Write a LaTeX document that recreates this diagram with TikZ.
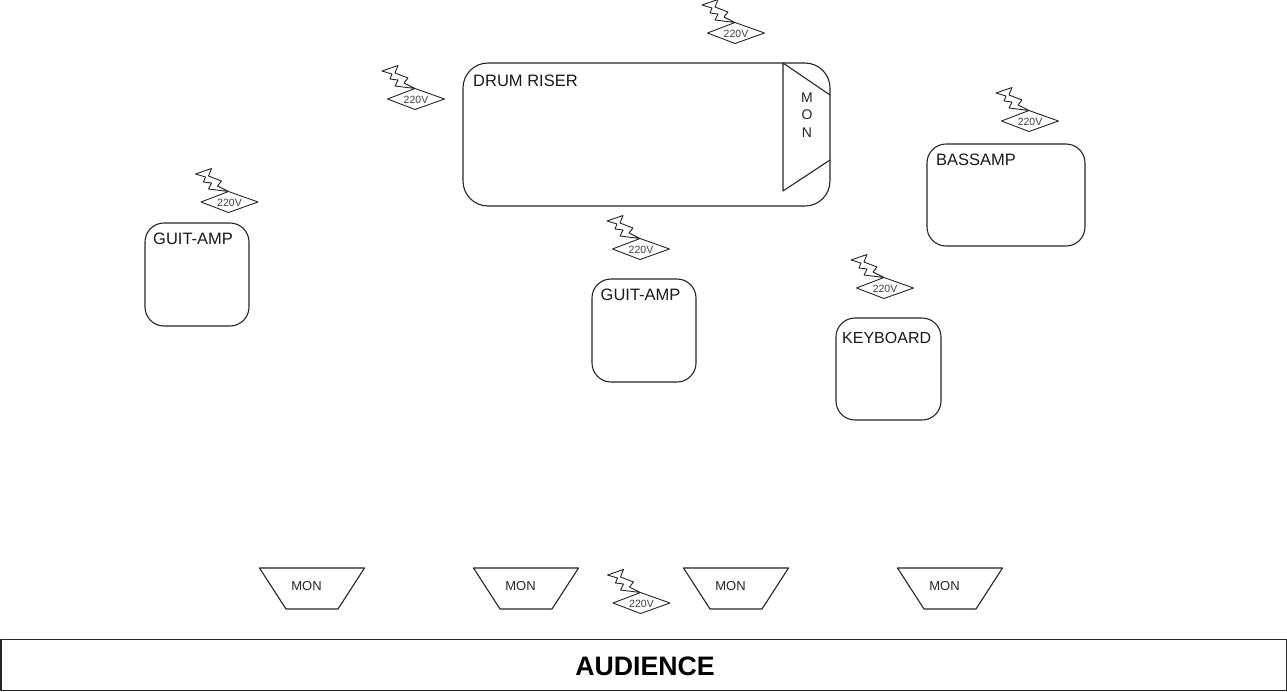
\documentclass[tikz,border=0pt]{standalone}
\usepackage{fontspec}
\setmainfont{Liberation Sans}
\usetikzlibrary{calc}
\tikzset{
  x=1pt,y=-1pt,
  line/.style={draw=black!85,line width=1.1pt,line join=round},
  roombox/.style={line,rounded corners=19pt,fill=none},
  lab/.style={font=\fontsize{16.5}{18}\selectfont,text=black!90,inner sep=0pt,anchor=west},
  monlab/.style={font=\fontsize{13}{15}\selectfont,text=black!85,inner sep=0pt},
  vertlab/.style={font=\fontsize{14}{16}\selectfont,text=black!85,inner sep=0pt},
  powerpic/.pic={
    \draw[line,line width=.9pt] (-28.5,0)--(-1,-10.5)--(28.5,0)--(-1,10.5)--cycle;
    \draw[line,line width=.9pt] (-34,-28)--(-18,-33.5)--(-21,-26)--(-8,-21)--(-12,-16)--(-1,-10.5)--(-21,-13)--(-18,-19)--(-26,-20)--(-24,-25)--cycle;
    \node[font=\fontsize{10.5}{12}\selectfont,text=black!75,inner sep=0pt] at (0,1) {220V};
  },
  wedge/.pic={
    \draw[line] (-52.5,-21)--(52.5,-21)--(26,20)--(-26,20)--cycle;
    \node[monlab] at (-5.5,-3) {MON};
  }
}
\begin{document}
\begin{tikzpicture}
\useasboundingbox (0,0) rectangle (1287,691);
\fill[white] (0,0) rectangle (1287,691);
% boxes
\draw[roombox,rounded corners=25pt] (463,63) rectangle (830,206);
\coordinate (drumTop) at (783,63);
\coordinate (wedgeA) at (830,95);
\coordinate (wedgeB) at (830,160);
\coordinate (wedgeC) at (783,191);
\draw[line] (wedgeA)--(drumTop)--(wedgeC)--(wedgeB);
\node[lab] (drum) at (473,81) {DRUM RISER};
\node[vertlab] (m1) at (807,98) {M};
\node[vertlab] (m2) at (807,115) {O};
\node[vertlab] (m3) at (807,132.5) {N};
\draw[roombox] (927,144) rectangle (1085,246);
\node[lab] (bass) at (936,160) {BASSAMP};
\draw[roombox] (145,223) rectangle (249,326);
\node[lab] (guita) at (153,239) {GUIT-AMP};
\draw[roombox] (592,279) rectangle (696,382);
\node[lab] (guitb) at (600.5,295) {GUIT-AMP};
\draw[roombox] (836,318) rectangle (941,420);
\node[lab,font=\fontsize{16}{18}\selectfont] (key) at (842,338) {KEYBOARD};
% power
\pic at (736,33) {powerpic};
\pic at (416,99) {powerpic};
\pic at (1030,121) {powerpic};
\pic at (229.5,202) {powerpic};
\pic at (641,249) {powerpic};
\pic at (885,288) {powerpic};
\pic at (641.5,603) {powerpic};
% monitors
\pic at (312,589) {wedge};
\pic at (526,589) {wedge};
\pic at (736,589) {wedge};
\pic at (950,589) {wedge};
% audience
\draw[line] (1,639.5) rectangle (1287,690.5);
\node[font=\bfseries\fontsize{26.7}{30}\selectfont,inner sep=0pt] (aud) at (645,666) {AUDIENCE};
\end{tikzpicture}
\end{document}
